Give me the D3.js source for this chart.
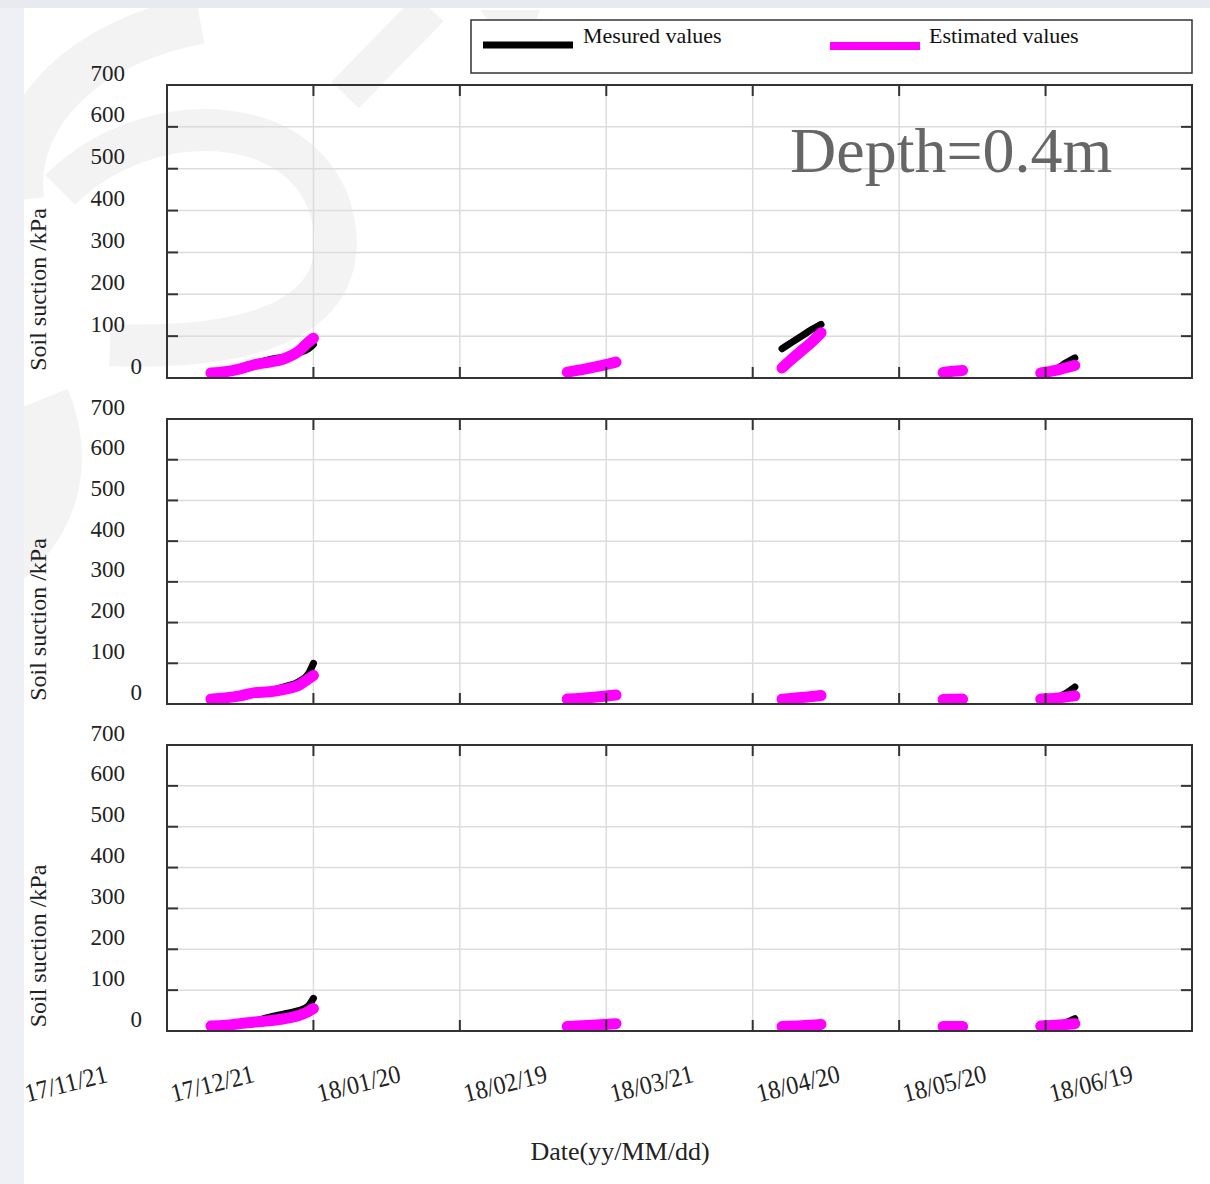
<!DOCTYPE html>
<html>
<head>
<meta charset="utf-8">
<script src="https://cdn.jsdelivr.net/npm/d3@7"></script>
<style>
  html, body { margin: 0; padding: 0; background: #fff; }
  svg { display: block; }
  text { font-family: "Liberation Serif", "Times New Roman", serif; }
</style>
</head>
<body>
<svg id="chart" width="1210" height="1184"></svg>
<script>
// ---- data -------------------------------------------------------------
const tickDates  = ["2017-11-21","2017-12-21","2018-01-20","2018-02-19","2018-03-21","2018-04-20","2018-05-20","2018-06-19"];
const tickLabels = ["17/11/21","17/12/21","18/01/20","18/02/19","18/03/21","18/04/20","18/05/20","18/06/19"];
const yTicks = [0,100,200,300,400,500,600,700];
const seriesNames = ["Mesured values","Estimated values"];
const depthLabel = "Depth=0.4m";

// each series is a list of separate monitoring segments: [date, suction kPa]
const panel1Measured = [
  [["2017-11-30",10],["2017-12-03",14],["2017-12-06",21],["2017-12-09",34],["2017-12-12",44],["2017-12-15",50],["2017-12-18",60],["2017-12-20",70],["2017-12-21",80]],
  [["2018-02-11",12],["2018-02-14",18],["2018-02-17",25],["2018-02-21",35]],
  [["2018-03-27",70],["2018-03-29",85],["2018-03-31",100],["2018-04-02",115],["2018-04-04",128]],
  [["2018-04-29",12],["2018-05-01",14],["2018-05-03",16]],
  [["2018-05-19",10],["2018-05-22",20],["2018-05-24",35],["2018-05-26",48]]
];
const panel1Estimated = [
  [["2017-11-30",12],["2017-12-03",15],["2017-12-06",22],["2017-12-09",32],["2017-12-12",38],["2017-12-15",46],["2017-12-18",64],["2017-12-20",86],["2017-12-21",95]],
  [["2018-02-11",14],["2018-02-14",20],["2018-02-17",27],["2018-02-21",38]],
  [["2018-03-27",24],["2018-03-29",45],["2018-03-31",65],["2018-04-02",85],["2018-04-04",108]],
  [["2018-04-29",13],["2018-05-01",16],["2018-05-03",18]],
  [["2018-05-19",12],["2018-05-22",18],["2018-05-24",24],["2018-05-26",30]]
];
const panel2Measured = [
  [["2017-11-30",10],["2017-12-03",13],["2017-12-06",18],["2017-12-09",26],["2017-12-12",32],["2017-12-15",42],["2017-12-18",55],["2017-12-20",75],["2017-12-21",100]],
  [["2018-02-11",10],["2018-02-16",15],["2018-02-21",22]],
  [["2018-03-27",12],["2018-03-31",16],["2018-04-04",22]],
  [["2018-04-29",10],["2018-05-03",11]],
  [["2018-05-19",8],["2018-05-22",14],["2018-05-24",25],["2018-05-26",42]]
];
const panel2Estimated = [
  [["2017-11-30",12],["2017-12-03",15],["2017-12-06",20],["2017-12-09",28],["2017-12-12",30],["2017-12-15",36],["2017-12-18",46],["2017-12-20",62],["2017-12-21",70]],
  [["2018-02-11",12],["2018-02-16",16],["2018-02-21",22]],
  [["2018-03-27",12],["2018-03-31",16],["2018-04-04",21]],
  [["2018-04-29",11],["2018-05-03",12]],
  [["2018-05-19",12],["2018-05-22",14],["2018-05-26",20]]
];
const panel3Measured = [
  [["2017-11-30",10],["2017-12-03",12],["2017-12-06",16],["2017-12-09",24],["2017-12-12",34],["2017-12-15",42],["2017-12-18",50],["2017-12-20",62],["2017-12-21",80]],
  [["2018-02-11",10],["2018-02-21",17]],
  [["2018-03-27",10],["2018-04-04",15]],
  [["2018-04-29",10],["2018-05-03",10]],
  [["2018-05-19",10],["2018-05-22",14],["2018-05-24",20],["2018-05-26",30]]
];
const panel3Estimated = [
  [["2017-11-30",12],["2017-12-03",14],["2017-12-06",18],["2017-12-09",22],["2017-12-12",25],["2017-12-15",30],["2017-12-18",38],["2017-12-20",48],["2017-12-21",55]],
  [["2018-02-11",11],["2018-02-16",14],["2018-02-21",18]],
  [["2018-03-27",11],["2018-03-31",13],["2018-04-04",16]],
  [["2018-04-29",11],["2018-05-03",11]],
  [["2018-05-19",12],["2018-05-22",14],["2018-05-26",18]]
];

// ---- layout -----------------------------------------------------------
const parse = d3.utcParse("%Y-%m-%d");
const svg = d3.select("#chart");
const W = 1210, H = 1184;
const left = 167, right = 1192;
const panels = [
  { top: 85,  bottom: 378,  measured: panel1Measured, estimated: panel1Estimated, depth: true },
  { top: 419, bottom: 704,  measured: panel2Measured, estimated: panel2Estimated, depth: false },
  { top: 745, bottom: 1031, measured: panel3Measured, estimated: panel3Estimated, depth: false }
];
const axisColor = "#333";
const gridColor = "#dcdcdc";
const measColor = "#000";
const estColor = "#ff00ff";

// page backdrop with faint watermark
svg.append("rect").attr("width", W).attr("height", H).attr("fill", "#fff");
const wm = svg.append("g").attr("fill", "none").attr("stroke", "#f3f3f3").attr("stroke-linecap", "butt");
wm.append("path").attr("d", "M 200 20 C 90 40 10 110 20 200").attr("stroke-width", 48);
wm.append("path").attr("d", "M 60 190 C 150 100 320 110 335 230 C 345 320 250 350 110 345").attr("stroke-width", 42);
wm.append("path").attr("d", "M 40 400 C 60 450 60 510 0 560").attr("stroke-width", 60);
wm.append("path").attr("d", "M 430 8 L 345 95").attr("stroke-width", 38);
wm.append("path").attr("d", "M 480 10 L 520 60 L 540 10 Z").attr("fill", "#f3f3f3").attr("stroke-width", 0);
svg.append("rect").attr("x", 0).attr("y", 0).attr("width", 24).attr("height", H).attr("fill", "#eef0f5");
svg.append("rect").attr("x", 0).attr("y", 0).attr("width", W).attr("height", 8).attr("fill", "#e8eaf0");

const x = d3.scaleUtc()
  .domain([parse(tickDates[0]), parse(tickDates[tickDates.length - 1])])
  .range([left, right]);

panels.forEach((p, i) => {
  const y = d3.scaleLinear().domain([0, 700]).range([p.bottom, p.top]);
  const g = svg.append("g");

  // grid
  g.selectAll(".gx").data(tickDates.slice(1, -1)).join("line")
    .attr("x1", d => x(parse(d))).attr("x2", d => x(parse(d)))
    .attr("y1", p.top).attr("y2", p.bottom)
    .attr("stroke", gridColor).attr("stroke-width", 1.5);
  g.selectAll(".gy").data(yTicks.slice(1, -1)).join("line")
    .attr("x1", left).attr("x2", right)
    .attr("y1", d => y(d)).attr("y2", d => y(d))
    .attr("stroke", gridColor).attr("stroke-width", 1.5);

  // depth annotation
  if (p.depth) {
    g.append("text").attr("x", 790).attr("y", 172)
      .attr("font-size", 64).attr("fill", "#666").text(depthLabel);
  }

  // series
  const line = d3.line()
    .x(d => x(parse(d[0]))).y(d => y(d[1]))
    .curve(d3.curveMonotoneX);
  p.measured.forEach(seg => {
    g.append("path").attr("d", line(seg)).attr("fill", "none")
      .attr("stroke", measColor).attr("stroke-width", 7)
      .attr("stroke-linecap", "round").attr("stroke-linejoin", "round");
  });
  p.estimated.forEach(seg => {
    g.append("path").attr("d", line(seg)).attr("fill", "none")
      .attr("stroke", estColor).attr("stroke-width", 11)
      .attr("stroke-linecap", "round").attr("stroke-linejoin", "round");
  });

  // frame
  g.append("rect").attr("x", left).attr("y", p.top)
    .attr("width", right - left).attr("height", p.bottom - p.top)
    .attr("fill", "none").attr("stroke", axisColor).attr("stroke-width", 2);

  // inward ticks on all four sides
  const tl = 11;
  tickDates.slice(1, -1).forEach(d => {
    const xx = x(parse(d));
    g.append("line").attr("x1", xx).attr("x2", xx).attr("y1", p.bottom).attr("y2", p.bottom - tl)
      .attr("stroke", axisColor).attr("stroke-width", 2);
    g.append("line").attr("x1", xx).attr("x2", xx).attr("y1", p.top).attr("y2", p.top + tl)
      .attr("stroke", axisColor).attr("stroke-width", 2);
  });
  yTicks.slice(1, -1).forEach(v => {
    const yy = y(v);
    g.append("line").attr("x1", left).attr("x2", left + tl).attr("y1", yy).attr("y2", yy)
      .attr("stroke", axisColor).attr("stroke-width", 2);
    g.append("line").attr("x1", right).attr("x2", right - tl).attr("y1", yy).attr("y2", yy)
      .attr("stroke", axisColor).attr("stroke-width", 2);
  });

  // y tick labels
  g.selectAll(".yl").data(yTicks).join("text")
    .attr("x", d => d === 0 ? 142 : 125)
    .attr("y", d => y(d) - 12.5)
    .attr("dy", "0.35em")
    .attr("text-anchor", "end")
    .attr("font-size", 23).attr("fill", "#222")
    .text(d => d);

  // y axis title
  const cy = (p.top + p.bottom) / 2 + 58;
  g.append("text")
    .attr("transform", `translate(46,${cy}) rotate(-90)`)
    .attr("text-anchor", "middle")
    .attr("font-size", 24).attr("fill", "#222")
    .text("Soil suction /kPa");
});

// x tick labels (shared, under the last panel)
svg.selectAll(".xl").data(tickDates).join("text")
  .attr("transform", (d, i) => `translate(${x(parse(d)) - 99},1092) rotate(-14) scale(0.92,1)`)
  .attr("text-anchor", "middle")
  .attr("font-size", 26).attr("fill", "#222")
  .text((d, i) => tickLabels[i]);

svg.append("text")
  .attr("transform", "translate(620,1160)")
  .attr("text-anchor", "middle")
  .attr("font-size", 26).attr("fill", "#222")
  .text("Date(yy/MM/dd)");

// legend
const lg = svg.append("g");
lg.append("rect").attr("x", 471).attr("y", 20).attr("width", 721).attr("height", 53)
  .attr("fill", "#fff").attr("stroke", axisColor).attr("stroke-width", 1.5);
lg.append("line").attr("x1", 483).attr("x2", 573).attr("y1", 45).attr("y2", 45)
  .attr("stroke", measColor).attr("stroke-width", 7);
lg.append("line").attr("x1", 830).attr("x2", 920).attr("y1", 46).attr("y2", 46)
  .attr("stroke", estColor).attr("stroke-width", 8);
lg.append("text").attr("x", 583).attr("y", 43).attr("font-size", 22).attr("fill", "#111").text(seriesNames[0]);
lg.append("text").attr("x", 929).attr("y", 43).attr("font-size", 22).attr("fill", "#111").text(seriesNames[1]);
</script>
</body>
</html>
